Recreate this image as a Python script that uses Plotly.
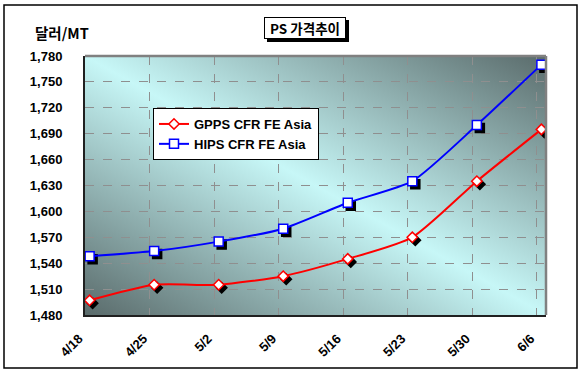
import base64
from datetime import datetime, timedelta
import plotly.graph_objects as go

# ---------------- data ----------------
year = 2008
date_labels = ["4/18", "4/25", "5/2", "5/9", "5/16", "5/23", "5/30", "6/6"]
gpps = [1497, 1515, 1515, 1525, 1545, 1570, 1635, 1695]
hips = [1548, 1554, 1565, 1580, 1610, 1635, 1700, 1770]
y_ticks = list(range(1480, 1781, 30))
series_names = ["GPPS CFR FE Asia", "HIPS CFR FE Asia"]
chart_title = "PS 가격추이"
unit_label = "달러/MT"

dates = [datetime(year, int(m), int(d)) for m, d in (s.split("/") for s in date_labels)]

# ---------------- layout geometry ----------------
W, H = 583, 376
L, R, T, B = 85, 546, 56, 315
pw, ph = R - L, B - T
x_start = dates[0]
x_end = dates[-1] + timedelta(days=1)
span_days = (x_end - x_start).total_seconds() / 86400
ymin, ymax = y_ticks[0], y_ticks[-1]

SH = 3  # shadow offset in px
dx = timedelta(days=SH * span_days / pw)
dy = SH * (ymax - ymin) / ph

def px_x(p):
    return (p - L) / pw

def px_y(p):
    return (B - p) / ph

FONT = "Liberation Sans, Arial, sans-serif"
KFONT = "Noto Sans CJK KR, Liberation Sans, sans-serif"

# gradient background image
svg = (
    '<svg xmlns="http://www.w3.org/2000/svg" width="200" height="200" viewBox="0 0 200 200" '
    'preserveAspectRatio="none"><defs><linearGradient id="g" x1="1" y1="0" x2="0" y2="1">'
    '<stop offset="0" stop-color="#5a6b6b"/><stop offset="0.5" stop-color="#c7f7f7"/>'
    '<stop offset="1" stop-color="#5a6b6b"/></linearGradient></defs>'
    '<rect width="200" height="200" fill="url(#g)"/></svg>'
)
svg_uri = "data:image/svg+xml;base64," + base64.b64encode(svg.encode()).decode()

period = dict(xperiod=86400000, xperiodalignment="middle")

fig = go.Figure()

# shadows (main axes, shifted ranges)
fig.add_trace(go.Scatter(x=dates, y=gpps, mode="markers", xaxis="x", yaxis="y",
                         marker=dict(symbol="diamond", size=8, color="black",
                                     line=dict(color="black", width=1.5)),
                         showlegend=False, hoverinfo="skip", **period))
fig.add_trace(go.Scatter(x=dates, y=hips, mode="markers", xaxis="x", yaxis="y",
                         marker=dict(symbol="square", size=9, color="black",
                                     line=dict(color="black", width=1.5)),
                         showlegend=False, hoverinfo="skip", **period))

# real series
fig.add_trace(go.Scatter(x=dates, y=gpps, name=series_names[0], mode="lines+markers",
                         xaxis="x2", yaxis="y2",
                         line=dict(color="#ff0000", width=2, shape="spline", smoothing=0.6),
                         marker=dict(symbol="diamond", size=8, color="white",
                                     line=dict(color="#ff0000", width=1.5)),
                         **period))
fig.add_trace(go.Scatter(x=dates, y=hips, name=series_names[1], mode="lines+markers",
                         xaxis="x2", yaxis="y2",
                         line=dict(color="#0000ff", width=2, shape="spline", smoothing=0.6),
                         marker=dict(symbol="square", size=9, color="white",
                                     line=dict(color="#0000ff", width=1.5)),
                         **period))

# title box geometry (px)
tb_cx, tb_cy, tb_w, tb_h = 305, 28, 82, 22

fig.update_layout(
    width=W, height=H,
    margin=dict(l=L, r=W - R, t=T, b=H - B, pad=0),
    paper_bgcolor="white",
    plot_bgcolor="rgba(0,0,0,0)",
    font=dict(family=FONT, size=12, color="black"),
    xaxis=dict(type="date", range=[x_start - dx, x_end - dx], visible=False,
               fixedrange=True),
    yaxis=dict(range=[ymin + dy, ymax + dy], visible=False, fixedrange=True),
    xaxis2=dict(type="date", overlaying="x", anchor="y2", side="bottom",
                range=[x_start, x_end],
                tickmode="array", tickvals=dates, ticktext=date_labels,
                tickangle=-45, ticks="", ticklabelstandoff=9, ticklabelshift=-6,
                tickfont=dict(family=FONT, size=13, weight="bold"),
                showgrid=True, gridcolor="#8f8f8f", griddash="dash", gridwidth=1,
                showline=True, linecolor="#202020", linewidth=2,
                zeroline=False),
    yaxis2=dict(overlaying="y", anchor="x2", side="left",
                range=[ymin, ymax], tickmode="array", tickvals=y_ticks,
                ticktext=[f"{v:,}" for v in y_ticks], ticks="",
                ticklabelstandoff=18,
                tickfont=dict(family=FONT, size=13, weight="bold"),
                showgrid=True, gridcolor="#8f8f8f", griddash="dash", gridwidth=1,
                showline=True, linecolor="#202020", linewidth=2,
                zeroline=False),
    legend=dict(x=px_x(153), y=px_y(108), xanchor="left", yanchor="top",
                bgcolor="white", bordercolor="black", borderwidth=1,
                font=dict(family=FONT, size=13, weight="bold"),
                itemwidth=30, tracegroupgap=0),
    showlegend=True,
    images=[dict(source=svg_uri, xref="paper", yref="paper", x=0, y=1,
                 sizex=1, sizey=1, xanchor="left", yanchor="top",
                 sizing="stretch", layer="below")],
    shapes=[
        dict(type="rect", xref="paper", yref="paper",
             x0=px_x(4), x1=px_x(577), y0=px_y(368), y1=px_y(5),
             line=dict(color="black", width=1.5), fillcolor="rgba(0,0,0,0)"),
        dict(type="line", xref="paper", yref="paper", x0=0, x1=1, y0=1, y1=1,
             line=dict(color="#808080", width=2.5)),
        dict(type="line", xref="paper", yref="paper", x0=1, x1=1, y0=0, y1=1,
             line=dict(color="#808080", width=2.5)),
        # title box drop shadow
        dict(type="rect", xref="paper", yref="paper",
             x0=px_x(tb_cx - tb_w / 2 + 3), x1=px_x(tb_cx + tb_w / 2 + 3),
             y0=px_y(tb_cy + tb_h / 2 + 3), y1=px_y(tb_cy - tb_h / 2 + 3),
             line=dict(width=0), fillcolor="black"),
    ],
    annotations=[
        dict(text=chart_title, xref="paper", yref="paper", x=px_x(tb_cx), y=px_y(tb_cy),
             xanchor="center", yanchor="middle",
             showarrow=False, font=dict(family=KFONT, size=13.5, color="black", weight="bold"),
             width=tb_w - 6, height=tb_h - 6, align="center", valign="middle",
             bgcolor="white", bordercolor="black", borderwidth=1, borderpad=2),
        dict(text=unit_label, xref="paper", yref="paper", x=px_x(62), y=px_y(33),
             xanchor="center", yanchor="middle",
             showarrow=False, font=dict(family=KFONT, size=14.5, color="black", weight="bold")),
    ],
)

fig.write_html("out.html", config={"displayModeBar": False},
               post_script="document.body.style.margin='0';document.body.style.padding='0';")
